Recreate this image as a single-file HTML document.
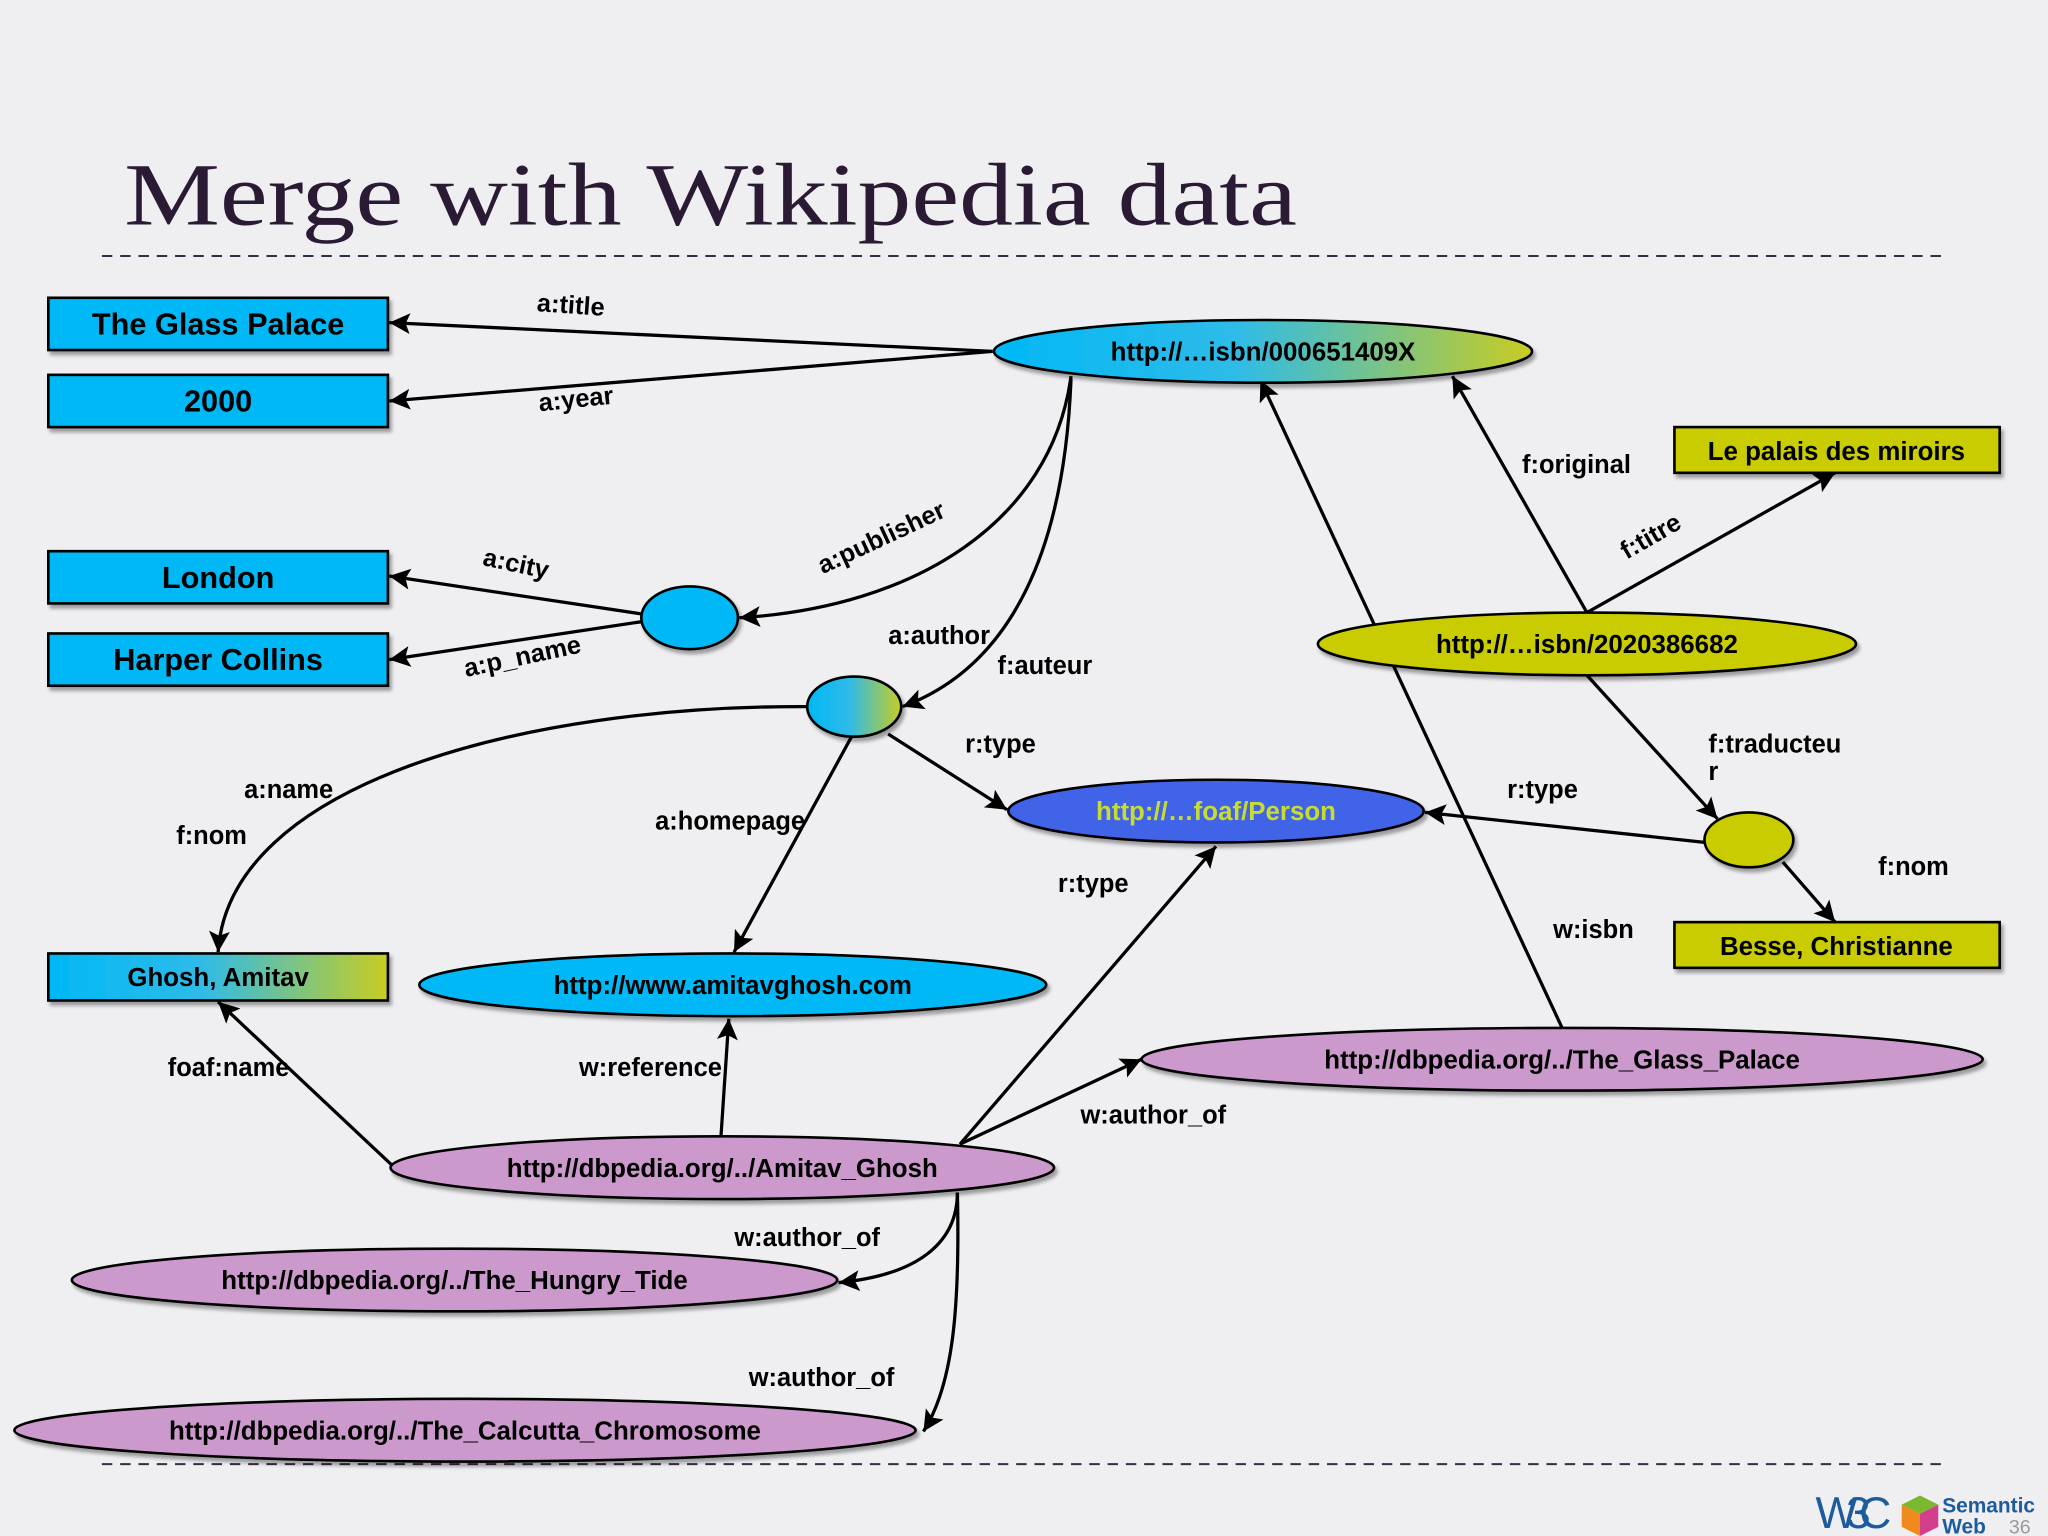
<!DOCTYPE html>
<html><head><meta charset="utf-8"><style>
html,body{margin:0;padding:0;background:#efeff2;}
svg{display:block}
text{font-family:"Liberation Sans",Arial,sans-serif;font-weight:bold;}
</style></head><body>
<svg width="2048" height="1536" viewBox="0 0 1568 1176" xmlns="http://www.w3.org/2000/svg">
<defs>
<linearGradient id="g1" x1="0" x2="1" y1="0" y2="0"><stop offset="0" stop-color="#00b8f5"/><stop offset="0.45" stop-color="#2fbbe8"/><stop offset="1" stop-color="#c8cc22"/></linearGradient>
<marker id="ar" markerWidth="16" markerHeight="16" refX="14" refY="7" orient="auto" markerUnits="userSpaceOnUse" viewBox="0 0 14 14"><path d="M0,0 L14,7 L0,14 L3,7 z" fill="#000"/></marker>
<filter id="sh" x="-5%" y="-10%" width="115%" height="140%"><feDropShadow dx="2" dy="3" stdDeviation="1.5" flood-color="#000" flood-opacity="0.35"/></filter>
</defs>
<rect width="1568" height="1176" fill="#efeff2"/>
<text x="95" y="172" style="font-family:'Liberation Serif',serif;font-weight:normal" font-size="68" fill="#2a1a33" textLength="898" lengthAdjust="spacingAndGlyphs">Merge with Wikipedia data</text>
<line x1="78" y1="196" x2="1490" y2="196" stroke="#3a2a44" stroke-width="1.5" stroke-dasharray="8,6"/>
<line x1="78" y1="1121" x2="1490" y2="1121" stroke="#3a2a44" stroke-width="1.5" stroke-dasharray="8,6"/>

<g stroke="#000" stroke-width="2.5" fill="none" marker-end="url(#ar)">
<line x1="760" y1="269" x2="298" y2="247"/>
<line x1="760" y1="269" x2="298" y2="307"/>
<path d="M820,288 C805,400 700,465 566,473"/>
<line x1="491" y1="470" x2="298" y2="441"/>
<line x1="491" y1="476" x2="298" y2="505"/>
<path d="M820,290 C815,420 775,510 691,541"/>
<path d="M618,541 C400,540 175,600 167,729"/>
<line x1="652" y1="564" x2="562" y2="729"/>
<line x1="680" y1="562" x2="771" y2="620"/>
<line x1="1306" y1="645" x2="1091" y2="622"/>
<line x1="1215" y1="469" x2="1112" y2="288"/>
<line x1="1215" y1="469" x2="1405" y2="362"/>
<line x1="1215" y1="517" x2="1315" y2="627"/>
<line x1="1365" y1="660" x2="1405" y2="706"/>
<line x1="1196" y1="787" x2="965" y2="291"/>
<line x1="735" y1="876" x2="931" y2="648"/>
<line x1="735" y1="876" x2="874" y2="811"/>
<line x1="552" y1="870" x2="558" y2="780"/>
<line x1="300" y1="892" x2="167" y2="767"/>
<path d="M733,913 C733,950 705,976 642,982"/>
<path d="M733,913 C735,1000 730,1060 707,1096"/>
</g>

<g stroke="#000" stroke-width="2" filter="url(#sh)">
<rect x="37" y="228" width="260" height="40" fill="#00b8f5"/>
<rect x="37" y="287" width="260" height="40" fill="#00b8f5"/>
<rect x="37" y="422" width="260" height="40" fill="#00b8f5"/>
<rect x="37" y="485" width="260" height="40" fill="#00b8f5"/>
<rect x="37" y="730" width="260" height="36" fill="url(#g1)"/>
<rect x="1282" y="327" width="249" height="35" fill="#c8cc00"/>
<rect x="1282" y="706" width="249" height="35" fill="#c8cc00"/>
<ellipse cx="967" cy="269" rx="206" ry="24" fill="url(#g1)"/>
<ellipse cx="528" cy="473" rx="37" ry="24" fill="#00b8f5"/>
<ellipse cx="654" cy="541" rx="36" ry="23" fill="url(#g1)"/>
<ellipse cx="931" cy="621" rx="159" ry="24" fill="#3f63e8"/>
<ellipse cx="1215" cy="493" rx="206" ry="24" fill="#c8cc00"/>
<ellipse cx="1339" cy="643" rx="34" ry="21" fill="#c8cc00"/>
<ellipse cx="561" cy="754" rx="240" ry="24" fill="#00b8f5"/>
<ellipse cx="1196" cy="811" rx="322" ry="24" fill="#cc99cc"/>
<ellipse cx="553" cy="894" rx="254" ry="24" fill="#cc99cc"/>
<ellipse cx="348" cy="980" rx="293" ry="24" fill="#cc99cc"/>
<ellipse cx="356" cy="1095" rx="345" ry="24" fill="#cc99cc"/>
</g>

<g font-size="23.5" text-anchor="middle" fill="#000">
<text x="167" y="256">The Glass Palace</text>
<text x="167" y="315">2000</text>
<text x="167" y="450">London</text>
<text x="167" y="513">Harper Collins</text>
</g>
<g font-size="19.8" text-anchor="middle" fill="#000">
<text x="167" y="755">Ghosh, Amitav</text>
<text x="1406" y="352">Le palais des miroirs</text>
<text x="1406" y="731">Besse, Christianne</text>
<text x="967" y="276">http://…isbn/000651409X</text>
<text x="931" y="628" fill="#c8dc30">http://…foaf/Person</text>
<text x="1215" y="500">http://…isbn/2020386682</text>
<text x="561" y="761">http://www.amitavghosh.com</text>
<text x="1196" y="818">http://dbpedia.org/../The_Glass_Palace</text>
<text x="553" y="901">http://dbpedia.org/../Amitav_Ghosh</text>
<text x="348" y="987">http://dbpedia.org/../The_Hungry_Tide</text>
<text x="356" y="1102">http://dbpedia.org/../The_Calcutta_Chromosome</text>
</g>
<g font-size="19.5" text-anchor="middle" fill="#000">
<text x="437" y="240" transform="rotate(4 437 234)">a:title</text>
<text x="441" y="312" transform="rotate(-6 441 306)">a:year</text>
<text x="675" y="418" transform="rotate(-25 675 412)">a:publisher</text>
<text x="395" y="438" transform="rotate(12 395 432)">a:city</text>
<text x="400" y="509" transform="rotate(-12 400 503)">a:p_name</text>
<text x="719" y="493">a:author</text>
<text x="800" y="516">f:auteur</text>
<text x="766" y="576">r:type</text>
<text x="221" y="611">a:name</text>
<text x="162" y="646">f:nom</text>
<text x="559" y="635">a:homepage</text>
<text x="837" y="683">r:type</text>
<text x="1207" y="362">f:original</text>
<text x="1264" y="417" transform="rotate(-30 1264 411)">f:titre</text>
<text x="1308" y="576" text-anchor="start">f:traducteu</text>
<text x="1308" y="597" text-anchor="start">r</text>
<text x="1181" y="611">r:type</text>
<text x="1465" y="670">f:nom</text>
<text x="1220" y="718">w:isbn</text>
<text x="175" y="824">foaf:name</text>
<text x="498" y="824">w:reference</text>
<text x="883" y="860">w:author_of</text>
<text x="618" y="954">w:author_of</text>
<text x="629" y="1061">w:author_of</text>
</g>
<g>
<text x="1390" y="1170" font-size="34" fill="#1d5c9c" style="font-weight:normal" textLength="58">W3C</text>
<polygon points="1456,1152 1470,1145 1484,1152 1470,1159" fill="#7cb82f"/>
<polygon points="1456,1152 1470,1159 1470,1176 1456,1169" fill="#f08a1c"/>
<polygon points="1470,1159 1484,1152 1484,1169 1470,1176" fill="#d43f8d"/>
<text x="1487" y="1158" font-size="16" fill="#1d5c9c">Semantic</text>
<text x="1487" y="1174" font-size="16" fill="#1d5c9c">Web</text>
<text x="1538" y="1174" font-size="15" fill="#999" style="font-weight:normal">36</text>
</g>
</svg>
</body></html>
